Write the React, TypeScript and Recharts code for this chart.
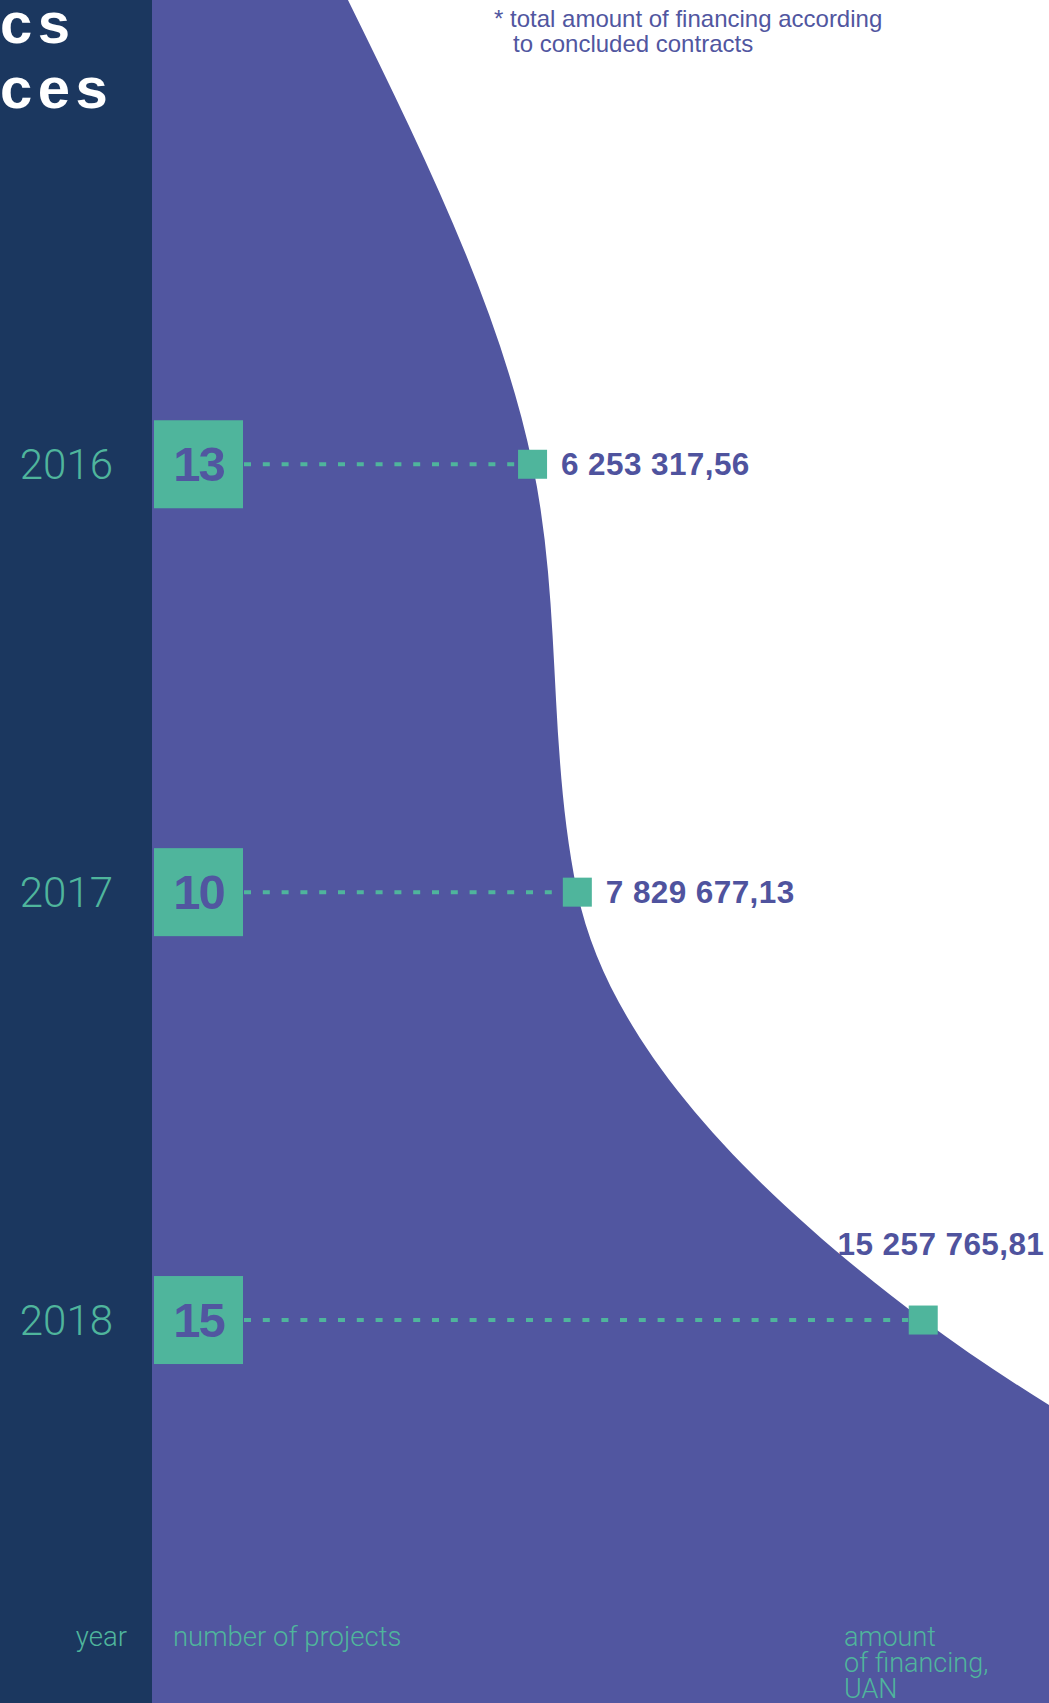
import React from 'react';
import { ComposedChart, Area, Line, XAxis, YAxis, LabelList, Customized } from 'recharts';

const W = 1049;
const H = 1703;
const NAVY = '#1b375f';
const PURPLE = '#5156a0';
const LABEL_PURPLE = '#4f539e';
const GREEN = '#4fb59c';

// ---- data ----
const years = [2016, 2017, 2018];
const projectCounts = [13, 10, 15];
const financing = [6253317.56, 7829677.13, 15257765.81];
const financingLabels = ['6 253 317,56', '7 829 677,13', '15 257 765,81'];

// where the drawn curve meets the top and bottom edges of the page
const curveEdgeYears = [2014.915, 2018.895];
const curveEdgeAmounts = [-7.24e6, 24.0e6];

// visible span of the amount axis
const amountDomain = [-12.23e6, 17.18e6];

const titleLines = ['cs', 'ces'];
const footnoteLines = ['* total amount of financing according', 'to concluded contracts'];
const yearAxisTitle = 'year';
const projectsAxisTitle = 'number of projects';
const amountAxisTitle = ['amount', 'of financing,', 'UAN'];

const pointData = years.map((year, i) => ({
  year,
  amount: financing[i],
  projects: projectCounts[i],
  label: financingLabels[i],
}));

const curveData = [
  { year: curveEdgeYears[0], amount: curveEdgeAmounts[0] },
  ...pointData.map((d) => ({ year: d.year, amount: d.amount })),
  { year: curveEdgeYears[1], amount: curveEdgeAmounts[1] },
];

// d3-like signed power scale (exponent 2), written by hand
function makeSignedPowScale(exponent: number, d0: number[] = [0, 1], r0: number[] = [0, 1]): any {
  let dom = d0.slice();
  let rng = r0.slice();
  const tf = (v: number) => Math.sign(v) * Math.pow(Math.abs(v), exponent);
  const itf = (t: number) => Math.sign(t) * Math.pow(Math.abs(t), 1 / exponent);
  const scale: any = (v: any) => {
    const n = Number(v);
    const a = tf(dom[0]);
    const b = tf(dom[dom.length - 1]);
    const ra = rng[0];
    const rb = rng[rng.length - 1];
    if (b === a) return (ra + rb) / 2;
    return ra + ((tf(n) - a) / (b - a)) * (rb - ra);
  };
  scale.domain = (...args: any[]) => {
    if (!args.length || args[0] === undefined) return dom.slice();
    dom = Array.from(args[0] as number[], Number);
    return scale;
  };
  scale.range = (...args: any[]) => {
    if (!args.length || args[0] === undefined) return rng.slice();
    rng = Array.from(args[0] as number[], Number);
    return scale;
  };
  scale.invert = (x: number) => {
    const a = tf(dom[0]);
    const b = tf(dom[dom.length - 1]);
    const ra = rng[0];
    const rb = rng[rng.length - 1];
    return itf(a + ((x - ra) / (rb - ra)) * (b - a));
  };
  scale.ticks = (count: number = 10) => {
    const lo = Math.min(dom[0], dom[dom.length - 1]);
    const hi = Math.max(dom[0], dom[dom.length - 1]);
    const span = hi - lo;
    if (!(span > 0)) return [lo];
    const raw = span / Math.max(1, count);
    const mag = Math.pow(10, Math.floor(Math.log10(raw)));
    const norm = raw / mag;
    const step = (norm > 5 ? 10 : norm > 2 ? 5 : norm > 1 ? 2 : 1) * mag;
    const out: number[] = [];
    for (let v = Math.ceil(lo / step) * step; v <= hi + 1e-9; v += step) out.push(v);
    return out;
  };
  scale.tickFormat = () => (v: any) => String(v);
  scale.nice = () => scale;
  scale.clamp = () => scale;
  scale.unknown = () => scale;
  scale.exponent = () => exponent;
  scale.copy = () => makeSignedPowScale(exponent, dom, rng);
  return scale;
}

const amountScale = makeSignedPowScale(2);

const LIGHT_FONT = "Roboto, 'Liberation Sans', sans-serif";
const BOLD_FONT = "'Liberation Sans', Arial, sans-serif";

const YearTick = (props: any) => {
  const { y, payload } = props;
  return (
    <text x={113} y={y + 15} textAnchor="end" fontFamily={LIGHT_FONT} fontWeight={300} fontSize={42} fill={GREEN}>
      {payload.value}
    </text>
  );
};

const Marker = (props: any) => {
  const { cx, cy, payload, index } = props;
  if (cx == null || cy == null) return <g key={`m-${index}`} />;
  return (
    <g key={`m-${index}`}>
      <line x1={244} x2={cx - 15} y1={cy} y2={cy} stroke={GREEN} strokeWidth={4} strokeDasharray="7 11.8" />
      <rect x={154} y={cy - 44} width={89} height={88} fill={GREEN} />
      <text
        x={198.5}
        y={cy + 17}
        textAnchor="middle"
        fontFamily={BOLD_FONT}
        fontWeight={700}
        fontSize={49}
        letterSpacing={-2}
        fill={PURPLE}
      >
        {payload.projects}
      </text>
      <rect x={cx - 14.5} y={cy - 14.5} width={29} height={29} fill={GREEN} />
    </g>
  );
};

const ValueLabel = (props: any) => {
  const { x, y, value, index } = props;
  const above = index === years.length - 1;
  return (
    <text
      x={above ? x + 121 : x + 28.5}
      y={above ? y - 65 : y + 11}
      textAnchor={above ? 'end' : 'start'}
      fontFamily={BOLD_FONT}
      fontWeight={700}
      fontSize={31.5}
      letterSpacing={0.4}
      fill={LABEL_PURPLE}
    >
      {value}
    </text>
  );
};

const Backdrop = () => (
  <g>
    <rect x={0} y={0} width={152} height={H} fill={NAVY} />
    {titleLines.map((t, i) => (
      <text
        key={t}
        x={0}
        y={43 + i * 65}
        fontFamily={BOLD_FONT}
        fontWeight={900}
        fontSize={58}
        letterSpacing={5.5}
        fill="#ffffff"
      >
        {t}
      </text>
    ))}
    {footnoteLines.map((t, i) => (
      <text key={t} x={i === 0 ? 494 : 513} y={27 + i * 25} fontFamily={BOLD_FONT} fontSize={24} fill={PURPLE}>
        {t}
      </text>
    ))}
    <text x={127} y={1646} textAnchor="end" fontFamily={LIGHT_FONT} fontWeight={300} fontSize={27.5} fill={GREEN}>
      {yearAxisTitle}
    </text>
  </g>
);

const FrontTexts = () => (
  <svg
    width={W}
    height={H}
    style={{ position: 'absolute', left: 0, top: 0, pointerEvents: 'none' }}
  >
    <text x={173} y={1646} fontFamily={LIGHT_FONT} fontWeight={300} fontSize={27.5} fill={GREEN}>
      {projectsAxisTitle}
    </text>
    {amountAxisTitle.map((t, i) => (
      <text key={t} x={844} y={1646 + i * 26} fontFamily={LIGHT_FONT} fontWeight={300} fontSize={27} fill={GREEN}>
        {t}
      </text>
    ))}
  </svg>
);

export default function App() {
  return (
    <div
      style={{
        position: 'absolute',
        left: 0,
        top: 0,
        width: W,
        height: H,
        overflow: 'hidden',
        background: '#ffffff',
      }}
    >
      <ComposedChart width={W} height={H} layout="vertical" margin={{ top: 0, right: 0, bottom: 0, left: 0 }}>
        <Customized component={<Backdrop />} />
        <XAxis type="number" dataKey="amount" hide domain={amountDomain} allowDataOverflow scale={amountScale} />
        <YAxis
          type="number"
          dataKey="year"
          domain={['dataMin', 'dataMax']}
          width={152}
          axisLine={false}
          tickLine={false}
          ticks={years}
          tick={<YearTick />}
          interval={0}
        />
        <Area
          data={curveData}
          dataKey="amount"
          type="monotoneY"
          fill={PURPLE}
          fillOpacity={1}
          stroke="none"
          baseValue={amountDomain[0]}
          isAnimationActive={false}
        />
        <Line data={pointData} dataKey="amount" stroke="none" dot={Marker} activeDot={false} isAnimationActive={false}>
          <LabelList dataKey="label" content={ValueLabel} />
        </Line>
      </ComposedChart>
      <FrontTexts />
    </div>
  );
}
